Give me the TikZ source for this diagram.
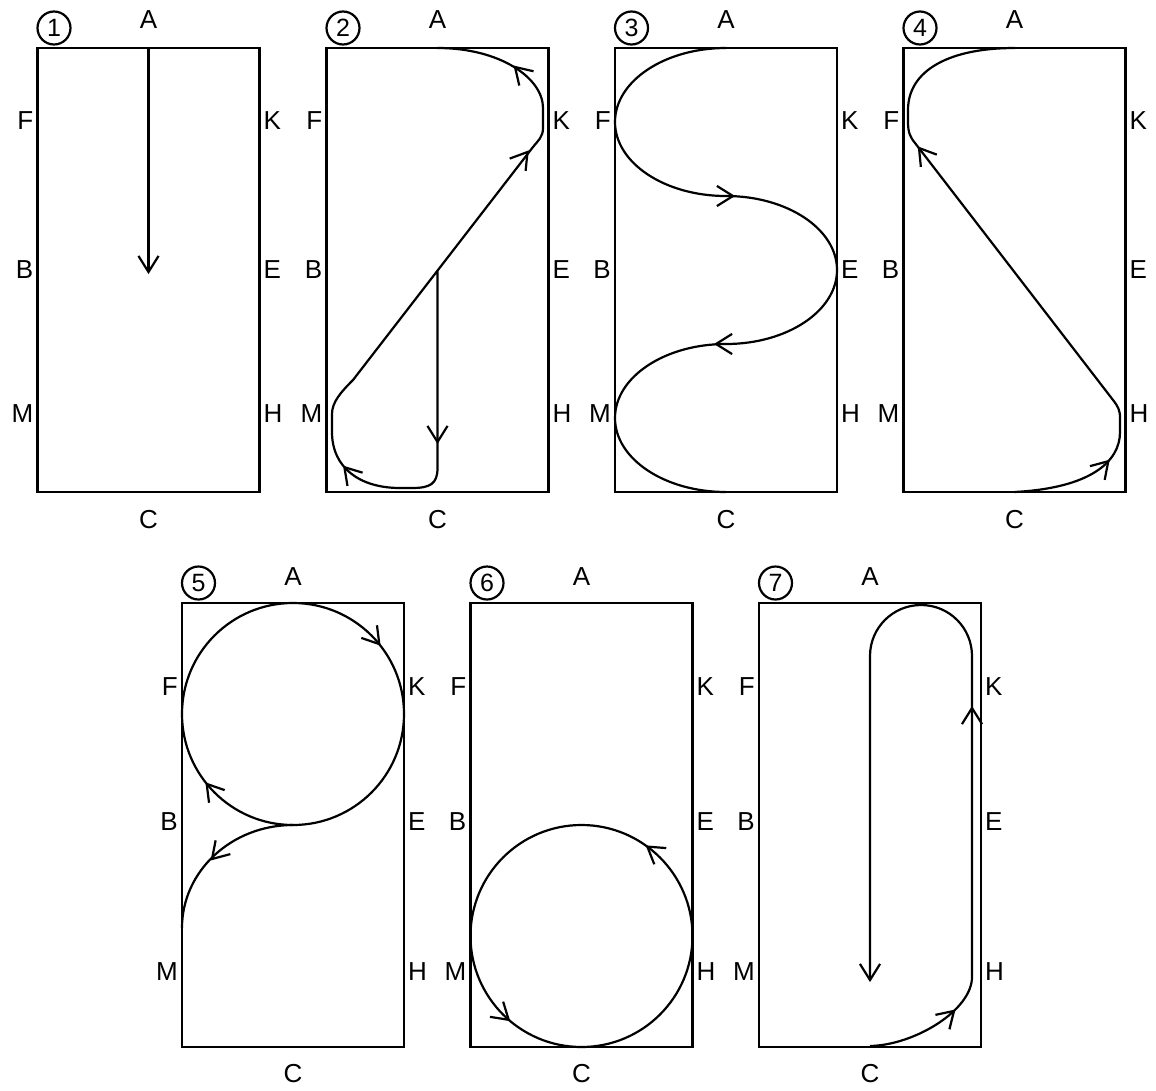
\documentclass[tikz,border=0pt]{standalone}
\usepackage{fontspec}
\setmainfont{Liberation Sans}
\tikzset{
  lw/.style={line width=2.2pt},
  arenabox/.style={lw},
  track/.style={lw, line join=round},
  barbline/.style={lw, line join=miter},
  lbl/.style={font=\fontsize{26}{30}\selectfont, inner sep=0pt},
  numc/.style={circle, draw, lw, minimum size=33pt, inner sep=0pt, font=\fontsize{25}{28}\selectfont},
}
\newcommand\barb[2]{\draw[barbline] (#1) ++(#2+148:19) -- (#1) -- ++(#2+212:19);}
% #1 name, #2 X0, #3 Y0, #4 number, #5 yA, #6 yC, #7 yF, #8 yB, #9 yM
\newcommand\arena[9]{%
  \draw[arenabox] (#2,#3) rectangle ++(222,444);
  \node[numc] (#1n) at (#2+16.5,#3-20) {#4};
  \node[lbl] (#1A) at (#2+111,#5) {A};
  \node[lbl] (#1C) at (#2+111,#6) {C};
  \node[lbl,anchor=east] (#1F) at (#2-4,#7) {F};
  \node[lbl,anchor=east] (#1B) at (#2-4,#8) {B};
  \node[lbl,anchor=east] (#1M) at (#2-4,#9) {M};
  \node[lbl,anchor=west] (#1K) at (#2+226,#7) {K};
  \node[lbl,anchor=west] (#1E) at (#2+226,#8) {E};
  \node[lbl,anchor=west] (#1H) at (#2+226,#9) {H};
}
\begin{document}
\begin{tikzpicture}[x=1pt,y=-1pt]
\useasboundingbox (0,0) rectangle (1156,1090);
\fill[white] (0,0) rectangle (1156,1090);

\arena{p1}{37.5}{48}{1}{20}{520}{121}{270}{414}
\arena{p2}{326.5}{48}{2}{20}{520}{121}{270}{414}
\arena{p3}{615}{48}{3}{20}{520}{121}{270}{414}
\arena{p4}{903.5}{48}{4}{20}{520}{121}{270}{414}
\arena{p5}{182}{603}{5}{577}{1074}{687}{822}{972}
\arena{p6}{470.5}{603}{6}{577}{1074}{687}{822}{972}
\arena{p7}{759}{603}{7}{577}{1074}{687}{822}{972}

% panel 1
\draw[track] (148.5,48) -- (148.5,272);
\barb{148.5,272}{90}

% panel 2
\draw[track] (437.5,270) -- (437.5,468) .. controls (437.5,484) and (430,488) .. (412,488)
  -- (400,488) .. controls (360,488) and (332,468) .. (332,432) -- (332,414)
  .. controls (332,402) and (341,392) .. (353,380) -- (533,147)
  .. controls (538,140.7) and (543,137) .. (543,128) -- (543,108)
  .. controls (543,78) and (500,48) .. (437.5,48);
\barb{437.5,442}{90}
\barb{344.4,467.2}{-131.3}
\barb{527.5,152}{-52.3}
\barb{515,67}{-135}

% panel 3
\draw[track] (726,48) .. controls (664.7,48) and (615,81.1) .. (615,122)
  .. controls (615,162.9) and (664.7,196) .. (726,196)
  .. controls (787.3,196) and (837,229.1) .. (837,270)
  .. controls (837,310.9) and (787.3,344) .. (726,344)
  .. controls (664.7,344) and (615,377.1) .. (615,418)
  .. controls (615,458.9) and (664.7,492) .. (726,492);
\barb{733,196}{0}
\barb{716,344}{180}

% panel 4
\draw[track] (1014.5,48) .. controls (950,48) and (908,70) .. (908,110) -- (908,122)
  .. controls (908,132) and (910,137) .. (915,143) -- (1113,400)
  .. controls (1117.9,406.3) and (1120,410) .. (1120,418) -- (1120,432)
  .. controls (1120,462) and (1090,488) .. (1014.5,492);
\barb{919,148}{232.4}
\barb{1108.3,461.2}{-47}

% panel 5
\draw[track] (293,714) circle[radius=111];
\draw[track] (293,825) .. controls (231.7,825) and (182,871) .. (182,928);
\barb{379.3,644.1}{51}
\barb{206.7,783.9}{231}
\barb{212,859}{133}

% panel 6
\draw[track] (581.5,936) circle[radius=111];
\barb{647.3,846.6}{-143.6}
\barb{508.7,1019.8}{41}

% panel 7
\draw[track] (870,1046) .. controls (915,1045) and (972,1010) .. (972,977) -- (972,656)
  .. controls (972,627.8) and (949.2,605) .. (921,605)
  .. controls (892.8,605) and (870,627.8) .. (870,656) -- (870,980);
\barb{972,708}{-90}
\barb{954,1010.9}{-44}
\barb{870,980}{90}
\end{tikzpicture}
\end{document}
